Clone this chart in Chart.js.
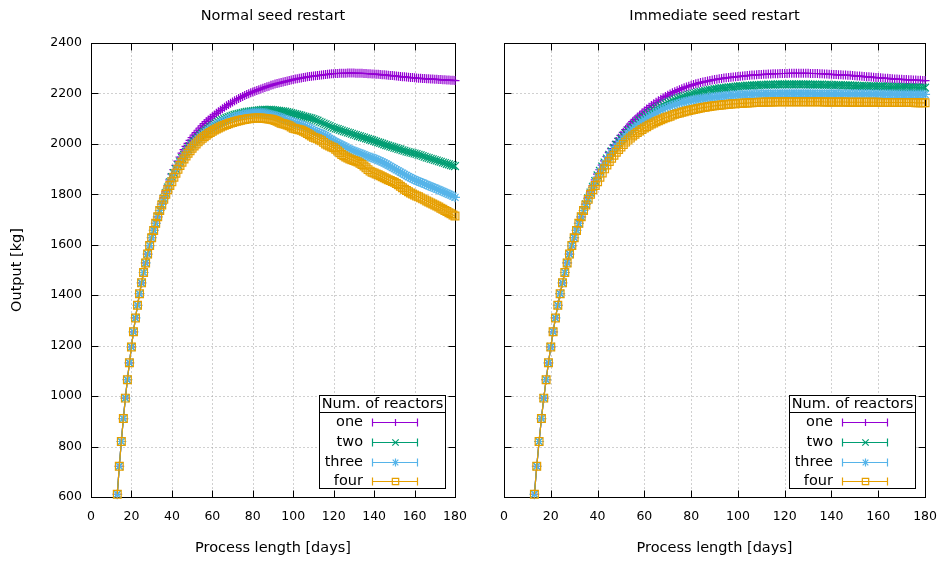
<!DOCTYPE html>
<html><head><meta charset="utf-8">
<script src="https://cdn.jsdelivr.net/npm/chart.js@4"></script>
<style>
html,body{margin:0;padding:0;background:#fff;overflow:hidden;}
#wrapL{position:absolute;left:0;top:0;width:480px;height:562px;}
#wrapR{position:absolute;left:480px;top:0;width:469px;height:562px;}
canvas{display:block;}
</style></head><body>
<div id="wrapL"><canvas id="cL" width="480" height="562" style="width:480px;height:562px"></canvas></div>
<div id="wrapR"><canvas id="cR" width="469" height="562" style="width:469px;height:562px"></canvas></div>
<script>
const panelTitles = ['Normal seed restart', 'Immediate seed restart'];
const xTitle = 'Process length [days]';
const yTitle = 'Output [kg]';
const legendTitle = 'Num. of reactors';
const seriesNames = ['one', 'two', 'three', 'four'];
const xTicks = [0, 20, 40, 60, 80, 100, 120, 140, 160, 180];
const yTicks = [600, 800, 1000, 1200, 1400, 1600, 1800, 2000, 2200, 2400];

const days = [13,14,15,16,17,18,19,20,21,22,23,24,25,26,27,28,29,30,
  31,32,33,34,35,36,37,38,39,40,41,42,43,44,45,46,47,48,49,50,
  51,52,53,54,55,56,57,58,59,60,61,62,63,64,65,66,67,68,69,70,
  71,72,73,74,75,76,77,78,79,80,81,82,83,84,85,86,87,88,89,90,
  91,92,93,94,95,96,97,98,99,100,101,102,103,104,105,106,107,108,109,110,
  111,112,113,114,115,116,117,118,119,120,121,122,123,124,125,126,127,128,129,130,
  131,132,133,134,135,136,137,138,139,140,141,142,143,144,145,146,147,148,149,150,
  151,152,153,154,155,156,157,158,159,160,161,162,163,164,165,166,167,168,169,170,
  171,172,173,174,175,176,177,178,179,180];

// common start, days 13..34
const early = [611,722,820,911,992,1065,1132,1195,1255,1310,1360,1406,1449,1490,1528,1563,1597,1628,1657,1685,1711,1736];

// Normal seed restart, days 35..180
const normalOne = [1761,1786,1810,1834,1857,1880,
  1898,1915,1932,1948,1963,1977,1990,2002,2014,2025,
  2035,2045,2054,2063,2072,2080,2088,2095,2102,2108,
  2115,2121,2127,2133,2139,2145,2151,2156,2161,2166,
  2171,2175,2180,2184,2188,2192,2196,2199,2203,2206,
  2209,2212,2215,2218,2221,2224,2227,2229,2232,2234,
  2237,2239,2241,2243,2245,2247,2249,2251,2253,2255,
  2257,2258,2260,2261,2263,2264,2266,2267,2268,2269,
  2270,2271,2272,2273,2274,2275,2276,2277,2278,2278,
  2279,2279,2280,2280,2280,2280,2281,2281,2281,2281,
  2280,2280,2280,2280,2279,2279,2278,2278,2277,2277,
  2276,2276,2275,2274,2274,2273,2272,2271,2271,2270,
  2269,2268,2267,2266,2266,2265,2264,2263,2263,2262,
  2261,2260,2260,2259,2259,2258,2258,2257,2257,2256,
  2256,2255,2255,2254,2254,2253,2253,2252,2252,2251];
const normalTwo = [1760,1783,1805,1827,1848,1868,
  1884,1900,1915,1930,1944,1957,1969,1980,1990,2000,
  2009,2018,2026,2034,2041,2048,2055,2061,2067,2072,
  2077,2082,2087,2091,2095,2099,2103,2106,2109,2112,
  2115,2117,2119,2121,2123,2125,2127,2128,2129,2130,
  2131,2132,2133,2134,2135,2135,2135,2135,2135,2134,
  2133,2132,2131,2130,2129,2128,2126,2124,2122,2120,
  2118,2116,2114,2112,2109,2107,2105,2103,2101,2098,
  2095,2092,2088,2085,2081,2078,2074,2071,2067,2064,
  2061,2059,2056,2053,2050,2048,2045,2043,2040,2037,
  2035,2032,2030,2027,2025,2022,2020,2017,2015,2012,
  2009,2006,2004,2001,1998,1995,1993,1990,1988,1985,
  1983,1980,1978,1975,1973,1970,1968,1966,1964,1962,
  1960,1957,1955,1952,1949,1946,1944,1941,1939,1936,
  1934,1931,1929,1926,1924,1921,1919,1916,1914,1912];
const normalThree = [1760,1782,1804,1825,1846,1865,
  1881,1897,1912,1926,1939,1952,1964,1975,1985,1995,
  2004,2013,2021,2028,2035,2042,2048,2054,2060,2065,
  2070,2074,2079,2083,2087,2091,2095,2098,2101,2104,
  2107,2109,2111,2113,2115,2117,2119,2120,2121,2122,
  2123,2123,2123,2123,2122,2121,2120,2118,2116,2114,
  2112,2110,2107,2104,2101,2098,2095,2092,2089,2086,
  2083,2080,2078,2076,2073,2070,2067,2063,2058,2053,
  2049,2046,2043,2040,2037,2033,2028,2022,2017,2012,
  2008,2004,2000,1996,1992,1988,1983,1979,1975,1972,
  1969,1966,1963,1960,1957,1953,1950,1947,1945,1942,
  1939,1935,1932,1928,1924,1920,1915,1911,1906,1902,
  1897,1893,1888,1884,1879,1875,1870,1866,1862,1858,
  1854,1851,1848,1845,1841,1838,1834,1831,1828,1825,
  1821,1818,1814,1811,1807,1804,1800,1797,1793,1788];
const normalFour = [1758,1780,1800,1818,1835,1850,
  1868,1884,1899,1914,1927,1940,1952,1963,1973,1983,
  1992,2000,2008,2015,2022,2028,2034,2040,2045,2050,
  2055,2059,2063,2067,2071,2074,2077,2080,2083,2085,
  2088,2090,2092,2094,2096,2097,2099,2100,2101,2102,
  2103,2103,2103,2103,2102,2101,2100,2099,2098,2096,
  2093,2090,2086,2082,2080,2078,2075,2072,2067,2062,
  2060,2058,2056,2054,2050,2046,2041,2036,2031,2026,
  2023,2020,2016,2012,2006,2000,1996,1992,1988,1985,
  1979,1972,1965,1958,1953,1948,1944,1940,1937,1934,
  1931,1928,1923,1918,1912,1905,1898,1892,1888,1885,
  1881,1878,1874,1870,1866,1862,1858,1855,1851,1848,
  1843,1838,1832,1826,1820,1815,1810,1805,1801,1797,
  1793,1790,1786,1782,1778,1774,1770,1766,1762,1758,
  1754,1750,1745,1741,1736,1732,1727,1723,1718,1714];

// Immediate seed restart, days 35..180
const immOne = [1761,1786,1810,1834,1857,1880,
  1898,1916,1933,1950,1966,1981,1995,2009,2022,2034,
  2046,2057,2068,2078,2088,2097,2106,2114,2122,2130,
  2138,2145,2152,2159,2165,2171,2177,2183,2188,2193,
  2198,2203,2207,2211,2215,2219,2223,2226,2229,2232,
  2235,2238,2240,2243,2245,2247,2249,2251,2253,2255,
  2256,2258,2259,2261,2262,2263,2264,2265,2266,2267,
  2268,2269,2270,2271,2272,2273,2273,2274,2275,2275,
  2276,2276,2277,2277,2278,2278,2278,2279,2279,2279,
  2279,2280,2280,2280,2280,2280,2280,2280,2280,2280,
  2279,2279,2279,2279,2278,2278,2277,2277,2276,2276,
  2275,2275,2274,2274,2273,2273,2272,2272,2271,2270,
  2269,2269,2268,2267,2266,2266,2265,2264,2263,2263,
  2262,2261,2260,2260,2259,2258,2257,2257,2256,2256,
  2255,2255,2254,2254,2253,2253,2252,2252,2251,2251];
const immTwo = [1760,1784,1807,1830,1853,1875,
  1893,1910,1926,1942,1957,1971,1984,1997,2009,2020,
  2031,2041,2051,2060,2069,2078,2086,2094,2101,2108,
  2115,2122,2128,2134,2140,2145,2150,2155,2160,2164,
  2168,2172,2176,2180,2183,2186,2189,2192,2195,2197,
  2200,2202,2204,2206,2208,2210,2212,2214,2215,2217,
  2218,2220,2221,2222,2223,2224,2225,2226,2227,2228,
  2229,2229,2230,2231,2231,2232,2232,2233,2233,2234,
  2234,2234,2235,2235,2235,2235,2236,2236,2236,2236,
  2236,2236,2236,2236,2236,2236,2236,2236,2236,2236,
  2235,2235,2235,2235,2235,2235,2234,2234,2234,2234,
  2233,2233,2233,2233,2232,2232,2232,2232,2231,2231,
  2230,2230,2230,2230,2229,2229,2229,2229,2228,2228,
  2228,2228,2227,2227,2226,2226,2226,2226,2225,2225,
  2225,2225,2224,2224,2224,2224,2223,2223,2223,2223];
const immThree = [1760,1783,1805,1827,1848,1868,
  1886,1903,1920,1935,1950,1964,1977,1989,2000,2010,
  2021,2031,2041,2050,2058,2066,2074,2081,2088,2095,
  2101,2107,2113,2118,2123,2128,2133,2137,2141,2145,
  2149,2152,2155,2158,2161,2164,2166,2168,2170,2172,
  2174,2176,2177,2179,2180,2181,2183,2184,2185,2186,
  2187,2188,2189,2190,2191,2192,2193,2193,2194,2195,
  2195,2196,2196,2197,2197,2197,2198,2198,2198,2198,
  2199,2199,2199,2199,2199,2199,2200,2200,2200,2200,
  2200,2200,2200,2200,2200,2200,2200,2200,2200,2200,
  2200,2200,2199,2199,2199,2199,2199,2199,2199,2199,
  2199,2199,2199,2198,2198,2198,2198,2198,2198,2198,
  2198,2198,2198,2198,2198,2198,2197,2197,2197,2197,
  2197,2197,2197,2197,2197,2197,2196,2196,2196,2196,
  2196,2196,2196,2196,2196,2196,2196,2196,2196,2196];
const immFour = [1758,1780,1800,1818,1835,1850,
  1868,1885,1901,1916,1930,1943,1955,1967,1978,1988,
  1998,2007,2015,2023,2031,2038,2045,2051,2057,2063,
  2068,2074,2079,2083,2088,2092,2096,2100,2104,2107,
  2110,2114,2117,2120,2122,2125,2127,2130,2132,2134,
  2136,2138,2140,2142,2144,2145,2147,2148,2150,2151,
  2152,2153,2154,2155,2156,2157,2158,2159,2159,2160,
  2161,2161,2162,2162,2163,2163,2164,2164,2165,2165,
  2165,2166,2166,2166,2166,2167,2167,2167,2167,2167,
  2167,2167,2167,2167,2167,2167,2167,2167,2167,2167,
  2167,2167,2167,2167,2167,2167,2166,2166,2166,2166,
  2166,2166,2166,2166,2166,2166,2165,2165,2165,2165,
  2165,2165,2165,2165,2165,2165,2165,2165,2165,2165,
  2164,2164,2164,2164,2164,2164,2164,2164,2164,2164,
  2164,2164,2164,2164,2164,2163,2163,2163,2163,2163];

const colors = ['#9400d3', '#009e73', '#56b4e9', '#e69f00'];
const styles = ['cross', 'crossRot', 'star', 'rect'];
const radii = [4.5, 5.5, 5, 5.5];
const legendRadii = [3.5, 4.5, 4, 4.5];
const FONT = "'DejaVu Sans', Verdana, sans-serif";

function drawMarker(ctx, style, r, x, y) {
  ctx.beginPath();
  if (style === 'cross' || style === 'star') {
    ctx.moveTo(x - r, y); ctx.lineTo(x + r, y);
    ctx.moveTo(x, y - r); ctx.lineTo(x, y + r);
  }
  if (style === 'crossRot' || style === 'star') {
    const d = r * Math.SQRT1_2;
    ctx.moveTo(x - d, y - d); ctx.lineTo(x + d, y + d);
    ctx.moveTo(x - d, y + d); ctx.lineTo(x + d, y - d);
  }
  if (style === 'rect') {
    const d = r * Math.SQRT1_2;
    ctx.rect(x - d, y - d, 2 * d, 2 * d);
  }
  ctx.stroke();
}

function makeDecor(titleText) {
  return {
    id: 'decor',
    beforeDatasetsDraw(chart) {
      const {ctx, chartArea: a, scales: {x, y}} = chart;
      ctx.save();
      const L = Math.round(a.left) + 0.5, R = Math.round(a.right) + 0.5;
      const T = Math.round(a.top) + 0.5, B = Math.round(a.bottom) + 0.5;
      ctx.strokeStyle = '#a0a0a0'; ctx.lineWidth = 1; ctx.setLineDash([1, 3]);
      ctx.beginPath();
      xTicks.forEach(v => {
        if (v <= x.min || v >= x.max) return;
        const px = Math.round(x.getPixelForValue(v)) + 0.5;
        ctx.moveTo(px, T); ctx.lineTo(px, B);
      });
      yTicks.forEach(v => {
        if (v <= y.min || v >= y.max) return;
        const py = Math.round(y.getPixelForValue(v)) + 0.5;
        ctx.moveTo(L, py); ctx.lineTo(R, py);
      });
      ctx.stroke();
      ctx.setLineDash([]);
      ctx.strokeStyle = '#000'; ctx.lineWidth = 1;
      ctx.strokeRect(L, T, R - L, B - T);
      const tl = 7;
      ctx.beginPath();
      xTicks.forEach(v => {
        const px = Math.round(x.getPixelForValue(v)) + 0.5;
        ctx.moveTo(px, B); ctx.lineTo(px, B - tl);
        ctx.moveTo(px, T); ctx.lineTo(px, T + tl);
      });
      yTicks.forEach(v => {
        const py = Math.round(y.getPixelForValue(v)) + 0.5;
        ctx.moveTo(L, py); ctx.lineTo(L + tl, py);
        ctx.moveTo(R, py); ctx.lineTo(R - tl, py);
      });
      ctx.stroke();
      ctx.fillStyle = '#000';
      ctx.font = '14.5px ' + FONT;
      ctx.textAlign = 'center'; ctx.textBaseline = 'middle';
      ctx.fillText(titleText, (a.left + a.right) / 2, 16);
      ctx.restore();
    },
    afterDatasetsDraw(chart) {
      const {ctx, chartArea: a} = chart;
      ctx.save();
      const bx1 = Math.round(a.right) - 136, bx2 = Math.round(a.right) - 10;
      const by1 = Math.round(a.bottom) - 102, by2 = Math.round(a.bottom) - 9;
      ctx.fillStyle = '#fff';
      ctx.fillRect(bx1, by1, bx2 - bx1, by2 - by1);
      ctx.strokeStyle = '#000'; ctx.lineWidth = 1;
      ctx.strokeRect(bx1 + 0.5, by1 + 0.5, bx2 - bx1, by2 - by1);
      ctx.beginPath();
      ctx.moveTo(bx1, by1 + 17.5); ctx.lineTo(bx2, by1 + 17.5);
      ctx.stroke();
      ctx.fillStyle = '#000';
      ctx.font = '14.5px ' + FONT;
      ctx.textAlign = 'center'; ctx.textBaseline = 'middle';
      ctx.fillText(legendTitle, (bx1 + bx2) / 2 + 0.5, by1 + 9);
      seriesNames.forEach((name, i) => {
        const yy = Math.round(by1 + 27 + i * 19.8) + 0.5;
        ctx.fillStyle = '#000';
        ctx.textAlign = 'right';
        ctx.fillText(name, bx1 + 44, yy);
        ctx.strokeStyle = colors[i]; ctx.lineWidth = 1.2;
        const x1 = bx1 + 53.5, x2 = bx1 + 98.5;
        ctx.beginPath();
        ctx.moveTo(x1, yy); ctx.lineTo(x2, yy);
        ctx.moveTo(x1, yy - 4); ctx.lineTo(x1, yy + 4);
        ctx.moveTo(x2, yy - 4); ctx.lineTo(x2, yy + 4);
        ctx.stroke();
        drawMarker(ctx, styles[i], legendRadii[i], bx1 + 76.5, yy);
      });
      ctx.restore();
    }
  };
}

function makeChart(id, titleText, showY, series, padRight, yWidth) {
  return new Chart(document.getElementById(id), {
    type: 'scatter',
    data: {
      datasets: series.map((s, i) => {
        const vals = early.concat(s);
        return {
          label: seriesNames[i],
          data: days.map((d, k) => ({x: d, y: vals[k]})),
          showLine: true,
          borderColor: colors[i],
          backgroundColor: 'rgba(0,0,0,0)',
          pointBorderColor: colors[i],
          pointBackgroundColor: 'rgba(0,0,0,0)',
          borderWidth: 1.2,
          pointBorderWidth: 1.2,
          pointStyle: styles[i],
          pointRadius: radii[i],
          pointHoverRadius: radii[i],
          tension: 0,
          clip: false,
          order: 3 - i
        };
      })
    },
    options: {
      responsive: false, animation: false, events: [], devicePixelRatio: 1,
      layout: {padding: {top: 43, right: padRight, left: 0, bottom: 0}},
      plugins: {legend: {display: false}, tooltip: {enabled: false}, title: {display: false}},
      scales: {
        x: {
          type: 'linear', position: 'bottom', min: 0, max: 180,
          afterBuildTicks: s => { s.ticks = xTicks.map(v => ({value: v})); },
          ticks: {padding: 12, color: '#000', font: {family: FONT, size: 12.5}, callback: v => String(v)},
          grid: {display: false, drawTicks: false},
          border: {display: false},
          title: {display: true, text: xTitle, color: '#000', font: {family: FONT, size: 14.5}, padding: {top: 0, bottom: 5}},
          afterFit: s => { s.height = 65; }
        },
        y: {
          type: 'linear', position: 'left', min: 600, max: 2400,
          afterBuildTicks: s => { s.ticks = yTicks.map(v => ({value: v})); },
          ticks: {display: showY, padding: 9, color: '#000', font: {family: FONT, size: 12.5}, callback: v => String(v)},
          grid: {display: false, drawTicks: false},
          border: {display: false},
          title: {display: showY, text: yTitle, color: '#000', font: {family: FONT, size: 14.5}, padding: {top: 9, bottom: 0}},
          afterFit: s => { s.width = yWidth; }
        }
      }
    },
    plugins: [makeDecor(titleText)]
  });
}

makeChart('cL', panelTitles[0], true, [normalOne, normalTwo, normalThree, normalFour], 25, 91);
makeChart('cR', panelTitles[1], false, [immOne, immTwo, immThree, immFour], 16, 24);
</script>
</body></html>
